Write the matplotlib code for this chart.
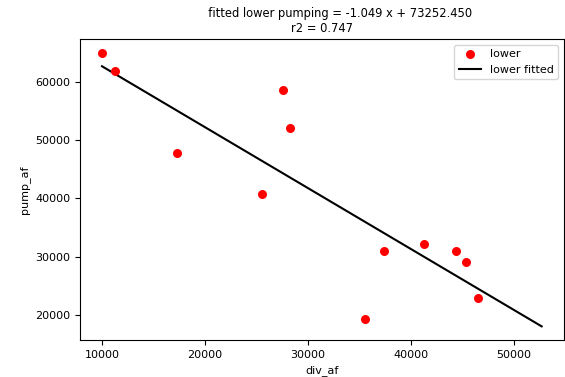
import matplotlib
matplotlib.use("Agg")
import matplotlib.pyplot as plt
import numpy as np

div_af = [10000, 11250, 17250, 25560, 27590, 28260, 35500, 37390, 41250, 44350, 45400, 46550]
pump_af = [65100, 61900, 47800, 40800, 58600, 52100, 19300, 30900, 32100, 30900, 29000, 22800]
slope = -1.049
intercept = 73252.450
r2 = 0.747
fit_x = [10000, 52700]

fig = plt.figure(figsize=(5.65, 3.77), dpi=100)
ax = fig.add_axes([0.1416, 0.098, 0.856, 0.7986])
ax.scatter(div_af, pump_af, color="red", s=30, label="lower", zorder=3)
fx = np.array(fit_x)
ax.plot(fx, slope * fx + intercept, color="black", lw=1.5, label="lower fitted")
fs = 8
ax.set_title(" " * 10 + f"fitted lower pumping = {slope:.3f} x + {intercept:.3f}\nr2 = {r2:.3f}",
             fontsize=8.3, linespacing=1.2, pad=5)
ax.set_xlabel("div_af", fontsize=fs)
ax.set_ylabel("pump_af", fontsize=fs)
ax.tick_params(labelsize=fs)
ax.set_xticks([10000, 20000, 30000, 40000, 50000])
ax.set_yticks([20000, 30000, 40000, 50000, 60000])
ax.legend(fontsize=fs, loc="upper right")
fig.savefig("out.png", dpi=100)
